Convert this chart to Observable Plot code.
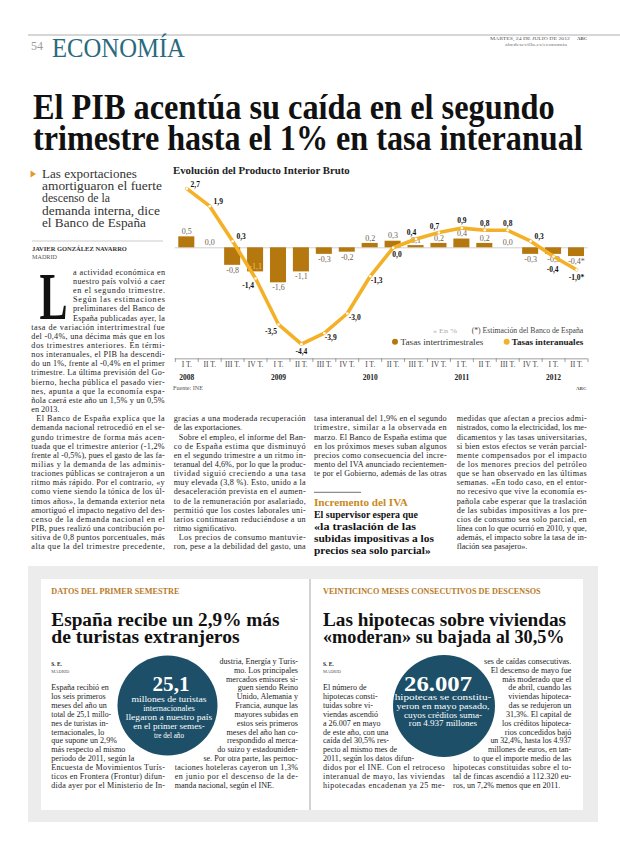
<!DOCTYPE html>
<html><head><meta charset="utf-8">
<script src="https://cdn.jsdelivr.net/npm/d3@7"></script>
<script src="https://cdn.jsdelivr.net/npm/@observablehq/plot@0.6"></script>
<style>
html,body{margin:0;padding:0;background:#fff;}
#page{position:relative;width:620px;height:846px;overflow:hidden;background:#fff;}
#ov{position:absolute;left:0;top:0;}
#chart{position:absolute;left:170px;top:165px;width:420px;height:235px;}
</style></head>
<body><div id="page"><svg id="ov" width="620" height="846"></svg><div id="chart"></div></div>
<script>
// ---------- CHART DATA ----------
const trimestres = ["I T.","II T.","III T.","IV T.","I T.","II T.","III T.","IV T.","I T.","II T.","III T.","IV T.","I T.","II T.","III T.","IV T.","I T.","II T."];
const anios = ["2008","2009","2010","2011","2012"];
const intertrimestral = [0.5,0.0,-0.8,-1.1,-1.6,-1.1,-0.3,-0.2,0.2,0.3,0.1,0.2,0.4,0.2,0.0,-0.3,-0.3,-0.4];
const interanual = [2.7,1.9,0.3,-1.4,-3.5,-4.4,-3.9,-3.0,-1.3,0.0,0.4,0.7,0.9,0.8,0.8,0.3,-0.4,-1.0];
const estimacion = [false,false,false,false,false,false,false,false,false,false,false,false,false,false,false,false,false,true];
// label placement (layout only)
const lineLabelPos = ["ne","ne","ne","sw","sw","s","se","e","se","s2","nw","nw","n","n","n","ne","ss","s"];
const barLabelInside = [3];

// ---------- PAGE TEXT ----------
const titular = ["El PIB acentúa su caída en el segundo","trimestre hasta el 1% en tasa interanual"];
const sumario = ["Las exportaciones","amortiguaron el fuerte","descenso de la","demanda interna, dice","el Banco de España"];
const col1 = ["a actividad económica en","nuestro país volvió a caer","en el segundo trimestre.","Según las estimaciones","preliminares del Banco de","España publicadas ayer, la",
"tasa de variación intertrimestral fue","del -0,4%, una décima más que en los","dos trimestres anteriores. En térmi-","nos interanuales, el PIB ha descendi-","do un 1%, frente al -0,4% en el primer","trimestre. La última previsión del Go-","bierno, hecha pública el pasado vier-","nes, apunta a que la economía espa-","ñola caerá este año un 1,5% y un 0,5%","en 2013.~",
"^El Banco de España explica que la","demanda nacional retrocedió en el se-","gundo trimestre de forma más acen-","tuada que el trimestre anterior (-1,2%","frente al -0,5%), pues el gasto de las fa-","milias y la demanda de las adminis-","traciones públicas se contrajeron a un","ritmo más rápido. Por el contrario, «y","como viene siendo la tónica de los úl-","timos años», la demanda exterior neta","amortiguó el impacto negativo del des-","censo de la demanda nacional en el","PIB, pues realizó una contribución po-","sitiva de 0,8 puntos porcentuales, más","alta que la del trimestre precedente,"];
const col2 = ["gracias a una moderada recuperación","de las exportaciones.~","^Sobre el empleo, el informe del Ban-","co de España estima que disminuyó","en el segundo trimestre a un ritmo in-","teranual del 4,6%, por lo que la produc-","tividad siguió creciendo a una tasa","muy elevada (3,8 %). Esto, unido a la","desaceleración prevista en el aumen-","to de la remuneración por asalariado,","permitió que los costes laborales uni-","tarios continuaran reduciéndose a un","ritmo significativo.~","^Los precios de consumo mantuvie-","ron, pese a la debilidad del gasto, una"];
const col3 = ["tasa interanual del 1,9% en el segundo","trimestre, similar a la observada en","marzo. El Banco de España estima que","en los próximos meses suban algunos","precios como consecuencia del incre-","mento del IVA anunciado recientemen-","te por el Gobierno, además de las otras"];
const destacado = ["El supervisor espera que","«la traslación de las","subidas impositivas a los","precios sea solo parcial»"];
const col4 = ["medidas que afectan a precios admi-","nistrados, como la electricidad, los me-","dicamentos y las tasas universitarias,","si bien estos efectos se verán parcial-","mente compensados por el impacto","de los menores precios del petróleo","que se han observado en las últimas","semanas. «En todo caso, en el entor-","no recesivo que vive la economía es-","pañola cabe esperar que la traslación","de las subidas impositivas a los pre-","cios de consumo sea solo parcial, en","línea con lo que ocurrió en 2010, y que,","además, el impacto sobre la tasa de in-","flación sea pasajero».~"];
const box1Left = ["España recibió en","los seis primeros","meses del año un","total de 25,1 millo-","nes de turistas in-","ternacionales, lo","que supone un 2,9%","más respecto al mismo","periodo de 2011, según la","Encuesta de Movimientos Turís-","ticos en Frontera (Frontur) difun-","dida ayer por el Ministerio de In-"];
const box1Right = ["dustria, Energía y Turis-","mo. Los principales","mercados emisores si-","guen siendo Reino","Unido, Alemania y","Francia, aunque las","mayores subidas en","estos seis primeros","meses del año han co-","rrespondido al merca-","do suizo y estadouniden-","se. Por otra parte, las pernoc-","taciones hoteleras cayeron un 1,3%","en junio por el descenso de la de-","manda nacional, según el INE.~"];
const box1Circle = ["millones de turistas","internacionales","llegaron a nuestro país","en el primer semes-","tre del año"];
const box2Left = ["El número de","hipotecas consti-","tuidas sobre vi-","viendas ascendió","a 26.007 en mayo","de este año, con una","caída del 30,5% res-","pecto al mismo mes de","2011, según los datos difun-","didos por el INE. Con el retroceso","interanual de mayo, las viviendas","hipotecadas encadenan ya 25 me-"];
const box2Right = ["ses de caídas consecutivas.","El descenso de mayo fue","más moderado que el","de abril, cuando las","viviendas hipoteca-","das se redujeron un","31,3%. El capital de","los créditos hipoteca-","rios concedidos bajó","un 32,4%, hasta los 4.937","millones de euros, en tan-","to que el importe medio de las","hipotecas constituidas sobre el to-","tal de fincas ascendió a 112.320 eu-","ros, un 7,2% menos que en 2011.~"];
const box2Circle = ["hipotecas se constitu-","yeron en mayo pasado,","cuyos créditos suma-","ron 4.937 millones"];

// ---------- helpers ----------
const SERIF = "'Liberation Serif','DejaVu Serif',serif";
const NS = "http://www.w3.org/2000/svg";
const ov = document.getElementById("ov");
function el(tag, attrs){const e=document.createElementNS(NS,tag);for(const k in attrs)e.setAttribute(k,attrs[k]);ov.appendChild(e);return e;}
function txt(x,y,s,o={}){
  const e=el("text",{x,y,"font-family":o.ff||SERIF,"font-size":o.fs||8,"font-weight":o.fw||"normal",fill:o.fill||"#1d1d1d","text-anchor":o.anchor||"start"});
  e.textContent=s;
  if(o.w){const nat=e.getComputedTextLength();
    if(o.mode==="fit"||nat>o.w){
      const k=o.w/nat;
      e.setAttribute("x",0);e.setAttribute("y",0);
      e.setAttribute("transform",`translate(${x},${y}) scale(${k},1)`);
    } else if(o.mode==="just"){e.setAttribute("textLength",o.w);e.setAttribute("lengthAdjust","spacing");}}
  return e;
}
function column(lines,x,w,b0,lh,fs){
  lines.forEach((raw,k)=>{let s=raw,ind=0,just=true;
    if(s.startsWith("^")){s=s.slice(1);ind=5;}
    if(s.endsWith("~")){s=s.slice(0,-1);just=false;}
    txt(x+ind,b0+k*lh,s,{fs,w:w-ind,mode:just?"just":"max"});});
}
function wrapCol(lines,x,w,b0,lh,fs,side,c){
  lines.forEach((raw,k)=>{let s=raw,just=true;
    if(s.endsWith("~")){s=s.slice(0,-1);just=false;}
    const y=b0+k*lh, dy=Math.abs(y-2.5-c.cy);
    if(dy>=c.r+6){txt(x,y,s,{fs,w,mode:just?"just":"max"});return;}
    const h=Math.sqrt(Math.max(0,(c.r+7)**2-dy*dy));
    if(side==="left") txt(x,y,s,{fs,w:Math.min(w,c.cx-h-x),mode:"max"});
    else txt(x+w,y,s,{fs,anchor:"end",w:Math.min(w,x+w-(c.cx+h)),mode:"max"});});
}

// ---------- header ----------
el("line",{x1:28,x2:620,y1:35,y2:35,stroke:"#9a9a9a","stroke-width":0.8});
txt(31,50,"54",{fs:12,fill:"#9a9a9a"});
txt(52,57,"ECONOMÍA",{fs:28,fill:"#2a6a7e",w:133,mode:"fit"});
txt(490,40,"MARTES, 24 DE JULIO DE 2012",{fs:4.8,fill:"#555",w:80,mode:"fit"});
txt(577,40,"ABC",{fs:4.8,fw:"bold",fill:"#555"});
txt(505,46,"abcdesevilla.es/economia",{fs:4.8,fill:"#777",w:62,mode:"fit"});
txt(33,119,titular[0],{fs:36,fw:"bold",fill:"#111",w:522,mode:"fit"});
txt(33,150,titular[1],{fs:36,fw:"bold",fill:"#111",w:550,mode:"fit"});

// sumario
el("polygon",{points:"30.5,170.5 30.5,177.5 36,174",fill:"#e39a2a"});
const sumW=[95,120,68,118,104];
sumario.forEach((s,k)=>txt(42,178+k*12.2,s,{fs:13.5,fill:"#333",w:sumW[k],mode:"fit"}));
el("line",{x1:32,x2:163,y1:241,y2:241,stroke:"#b5b5b5","stroke-width":0.7});
txt(32,251,"JAVIER GONZÁLEZ NAVARRO",{fs:6,fw:"bold",fill:"#333",w:95,mode:"fit"});
txt(32,258.5,"MADRID",{fs:5.5,fill:"#555",w:25,mode:"fit"});

// article
const LH=9.15, B0=274.8, FS=8.2;
txt(39.5,318.5,"L",{fs:68,fw:"bold",fill:"#111",w:28,mode:"fit"});
column(col1.slice(0,6),73,92,B0,LH,FS);
column(col1.slice(6),31.3,133.4,B0+6*LH,LH,FS);
column(col2,173.7,132,B0+16*LH,LH,FS);
column(col3,314,132.7,B0+16*LH,LH,FS);
column(col4,456.7,130,B0+16*LH,LH,FS);
el("line",{x1:314,x2:361,y1:492.3,y2:492.3,stroke:"#333","stroke-width":0.7});
txt(314,505.5,"Incremento del IVA",{fs:9.5,fw:"bold",fill:"#c98a1e",w:94,mode:"fit"});
const destW=[104,102,120,116.7];
destacado.forEach((s,k)=>txt(314,517.5+k*12.2,s,{fs:11,fw:"bold",fill:"#111",w:destW[k],mode:"fit"}));

// chart title & notes
txt(173,174,"Evolución del Producto Interior Bruto",{fs:10,fw:"bold",fill:"#222",w:177,mode:"fit"});
txt(433,332.5,"» En %",{fs:7,fill:"#aaa",w:24,mode:"fit"});
txt(471.7,332.5,"(*) Estimación del Banco de España",{fs:7.2,fill:"#444",w:111.6,mode:"fit"});
const barColor="#b5780f", lineColor="#f4b026";
el("circle",{cx:395,cy:341.7,r:3,fill:barColor});
txt(400.5,344.5,"Tasas intertrimestrales",{fs:8,fill:"#333",w:83,mode:"fit"});
el("circle",{cx:506.7,cy:341.7,r:3,fill:lineColor});
txt(511.7,344.5,"Tasas interanuales",{fs:8,fw:"bold",fill:"#222",w:71.6,mode:"fit"});
txt(173,389.5,"Fuente: INE",{fs:5.5,fill:"#555",w:30,mode:"fit"});
txt(586.5,389.5,"ABC",{fs:5,fw:"bold",fill:"#555",anchor:"end"});

// bottom boxes
el("rect",{x:28,y:566,width:570,height:256,fill:"#ececec"});
el("rect",{x:41,y:579,width:542,height:231,fill:"#fff"});
el("line",{x1:310,x2:310,y1:579,y2:810,stroke:"#c4c4c4","stroke-width":1.5});
txt(51.3,593.5,"DATOS DEL PRIMER SEMESTRE",{fs:7.5,fw:"bold",fill:"#b97a2a",w:128.4,mode:"fit"});
txt(323,593.5,"VEINTICINCO MESES CONSECUTIVOS DE DESCENSOS",{fs:7.5,fw:"bold",fill:"#b97a2a",w:218,mode:"fit"});
txt(51.3,625.5,"España recibe un 2,9% más",{fs:18.5,fw:"bold",fill:"#111",w:228.4,mode:"fit"});
txt(51.3,643,"de turistas extranjeros",{fs:18.5,fw:"bold",fill:"#111",w:188.4,mode:"fit"});
txt(323,625.5,"Las hipotecas sobre viviendas",{fs:18.5,fw:"bold",fill:"#111",w:243.3,mode:"fit"});
txt(323,643,"«moderan» su bajada al 30,5%",{fs:18.5,fw:"bold",fill:"#111",w:241.7,mode:"fit"});
[51.3,323].forEach(x=>{txt(x,666,"S. E.",{fs:5.5,fw:"bold",fill:"#222"});txt(x,672.5,"MADRID",{fs:5,fill:"#555",w:18,mode:"fit"});});
const teal="#1d5068", BLH=8.85, BFS=8.1, RB0=663.8, LB0=RB0+3*BLH;
const c1={cx:167.5,cy:705.5,r:50}, c2={cx:444,cy:706,r:51};
el("circle",{cx:c1.cx,cy:c1.cy,r:c1.r,fill:teal});
el("circle",{cx:c2.cx,cy:c2.cy,r:c2.r,fill:teal});
txt(171,690.5,"25,1",{fs:22,fw:"bold",fill:"#fff",anchor:"middle",w:37,mode:"fit"});
const c1W=[75,51.6,86.6,71.7,30];
box1Circle.forEach((s,k)=>txt(169,701.5+k*9.1,s,{fs:7.6,fill:"#fff",anchor:"middle",w:c1W[k],mode:"fit"}));
txt(438,690.5,"26.007",{fs:22,fw:"bold",fill:"#fff",anchor:"middle",w:68,mode:"fit"});
const c2W=[96.7,93.3,78.3,68.3];
box2Circle.forEach((s,k)=>txt(443,700+k*8.8,s,{fs:7.6,fill:"#fff",anchor:"middle",w:c2W[k],mode:"fit"}));
wrapCol(box1Left,51.3,113.7,LB0,BLH,BFS,"left",c1);
wrapCol(box1Right,174.7,123.3,RB0,BLH,BFS,"right",c1);
wrapCol(box2Left,323,121.7,LB0,BLH,BFS,"left",c2);
wrapCol(box2Right,453,118.3,RB0,BLH,BFS,"right",c2);

// ---------- the chart ----------
const fmt=v=>(Math.abs(v)<1e-9?"0,0":d3.format(".1f")(v).replace(".",",").replace("−","-"));
const rows=trimestres.map((t,i)=>({i,t,q:intertrimestral[i],a:interanual[i],est:estimacion[i],pos:lineLabelPos[i],inside:barLabelInside.includes(i)}));
let yc=0; const yearRows=rows.filter(r=>r.t==="I T.").map(r=>({i:r.i,y:anios[yc++]}));
const U=21.9, Z=82.3;
const AXIS=-5.07, QLAB=-5.34, YLAB=-5.94;
const codes={ne:{a:"start",dx:3.8,dy:-4.3},e:{a:"start",dx:1.5,dy:3.6},se:{a:"start",dx:0.5,dy:4.3},s2:{a:"start",dx:-0.8,dy:7},sw:{a:"end",dx:-1.5,dy:7},s:{a:"middle",dx:0,dy:7.5},ss:{a:"middle",dx:-1,dy:13},nw:{a:"middle",dx:-4.5,dy:-6},n:{a:"middle",dx:0,dy:-7}};
const lineLabelMarks=Object.entries(codes).map(([c,o])=>Plot.text(rows.filter(r=>r.pos===c),{x:"i",y:"a",text:r=>fmt(r.a)+(r.est?"*":""),textAnchor:o.a,dx:o.dx,dy:o.dy,fontSize:7.5,fontWeight:"bold",fill:"#111"}));
const chart=Plot.plot({
  width:420,height:235,margin:0,
  x:{type:"linear",domain:[0,17],range:[16.3,406],axis:null},
  y:{type:"linear",domain:[-6.6,3.7],range:[Z+6.6*U,Z-3.7*U],axis:null},
  style:{fontFamily:SERIF,background:"transparent",overflow:"visible"},
  marks:[
    Plot.ruleY([0],{x1:-0.5,x2:17.5,stroke:"#b0b0b0",strokeWidth:0.6}),
    Plot.rect(rows,{x1:r=>r.i-0.35,x2:r=>r.i+0.35,y1:0,y2:"q",fill:barColor}),
    Plot.text(rows.filter(r=>!r.inside&&r.q>=0),{x:"i",y:"q",text:r=>fmt(r.q)+(r.est?"*":""),dy:-5.3,fontSize:8,fill:"#6e6252"}),
    Plot.text(rows.filter(r=>!r.inside&&r.q<0),{x:"i",y:"q",text:r=>fmt(r.q)+(r.est?"*":""),dy:5,fontSize:8,fill:"#6e6252"}),
    Plot.text(rows.filter(r=>r.inside),{x:"i",y:"q",text:r=>fmt(r.q),dy:-5,fontSize:8,fill:"#f6bf55"}),
    Plot.line(rows,{x:"i",y:"a",stroke:lineColor,strokeWidth:3.6,strokeLinejoin:"round",strokeLinecap:"round"}),
    Plot.dot(rows,{x:"i",y:"a",r:1.3,fill:"#fff"}),
    ...lineLabelMarks,
    Plot.ruleY([AXIS],{x1:-0.5,x2:17.5,stroke:"#777",strokeWidth:0.7}),
    Plot.ruleX(rows.concat([{i:18}]),{x:r=>r.i-0.5,y1:AXIS,y2:AXIS-0.17,stroke:"#777",strokeWidth:0.7}),
    Plot.text(rows,{x:"i",y:QLAB,text:"t",fontSize:7.5,fill:"#444"}),
    Plot.text(yearRows,{x:"i",y:YLAB,text:"y",fontSize:7.5,fontWeight:"bold",fill:"#222"})
  ]
});
document.getElementById("chart").appendChild(chart);
</script></body></html>
